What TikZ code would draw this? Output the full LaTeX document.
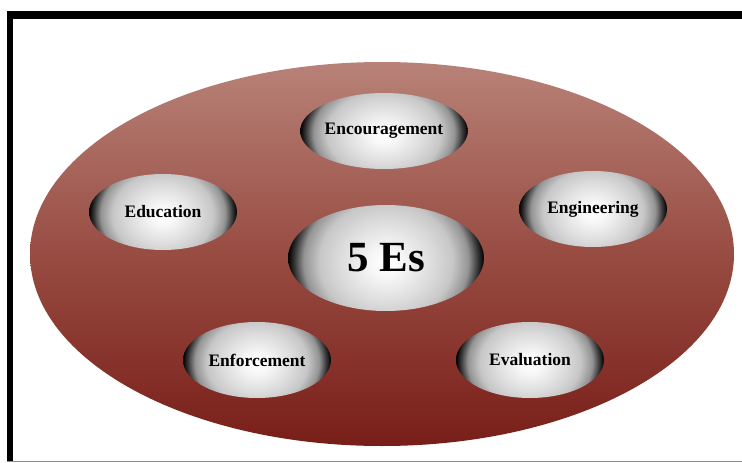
\documentclass[tikz,border=0pt]{standalone}
\usepackage{fontspec}
\setmainfont{Liberation Serif}
\usetikzlibrary{shapes.geometric}

\definecolor{fieldtop}{RGB}{184,130,120}
\definecolor{fieldmid}{RGB}{152,76,66}
\definecolor{fieldbot}{RGB}{120,30,24}

% background oval: light brick at the top, deep red at the bottom
\pgfdeclareverticalshading{brick}{100bp}{color(0bp)=(fieldbot); color(25bp)=(fieldbot); color(50bp)=(fieldmid); color(75bp)=(fieldtop); color(100bp)=(fieldtop)}
% silver disc: white core, black rim (shape edge sits at 25bp)
\pgfdeclareradialshading{silver}{\pgfpoint{0bp}{-1.5bp}}{color(0bp)=(white); color(4bp)=(white!97!black); color(12bp)=(white!86!black); color(17bp)=(white!78!black); color(21bp)=(white!58!black); color(23.5bp)=(black!80); color(25bp)=(black); color(50bp)=(black)}

\begin{document}
\begin{tikzpicture}[x=1pt,y=-1pt,
  field/.style={ellipse,inner sep=0pt,minimum width=704pt,minimum height=384pt,shading=brick},
  pill/.style={ellipse,inner sep=0pt,minimum width=148pt,minimum height=76pt,
    font=\bfseries\fontsize{17.5}{20}\selectfont,
    path picture={\shade[shading=silver] ([yshift=-#1]path picture bounding box.south west) rectangle ([yshift=#1]path picture bounding box.north east);}},
  pill/.default=24pt,
  hub/.style={pill=34pt,minimum width=196pt,minimum height=106pt,font=\bfseries\fontsize{43}{46}\selectfont}]
\useasboundingbox (0,0) rectangle (742,463);
\fill[white] (0,0) rectangle (742,463);
% frame
\fill[black] (7,11) rectangle (742,19);
\fill[black] (7,11) rectangle (13,462);
\draw[black!45,line width=1pt] (7,461.5) -- (742,461.5);

\node[field] (field) at (382,254) {};
\node[pill] (encouragement) at (384,131) {Encouragement};
\node[pill] (education) at (163,212) {Education};
\node[pill] (engineering) at (593,209) {Engineering};
\node[hub] (hub) at (386,258) {5 Es};
\node[pill] (enforcement) at (257,360) {Enforcement};
\node[pill] (evaluation) at (530,360) {Evaluation};
\end{tikzpicture}
\end{document}
